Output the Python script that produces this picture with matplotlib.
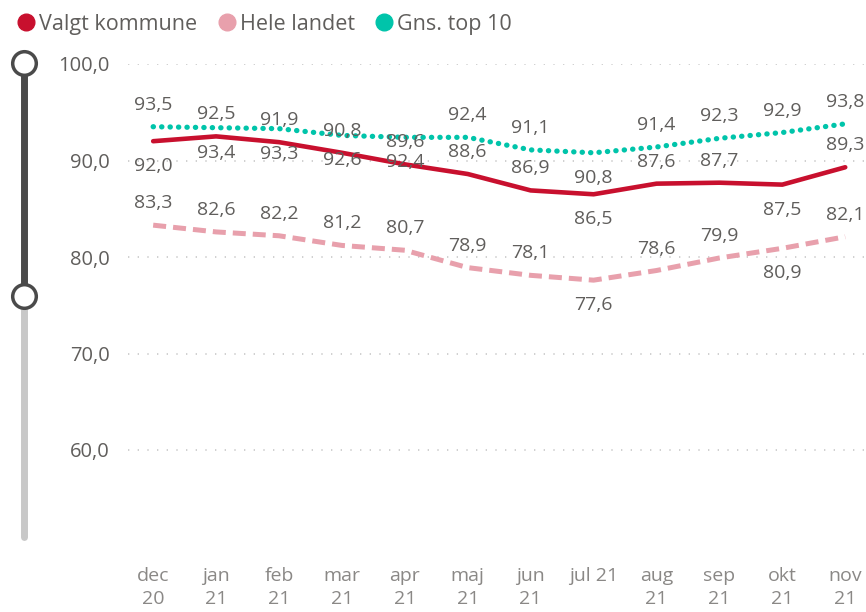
import matplotlib
matplotlib.use("Agg")
import matplotlib.pyplot as plt
from matplotlib.lines import Line2D
import numpy as np

plt.rcParams['font.family'] = ['Open Sans', 'DejaVu Sans']

# --- data ---
months = ["dec\n20", "jan\n21", "feb\n21", "mar\n21", "apr\n21", "maj\n21",
          "jun\n21", "jul 21", "aug\n21", "sep\n21", "okt\n21", "nov\n21"]
valgt_kommune = [92.0, 92.5, 91.9, 90.8, 89.6, 88.6, 86.9, 86.5, 87.6, 87.7, 87.5, 89.3]
hele_landet = [83.3, 82.6, 82.2, 81.2, 80.7, 78.9, 78.1, 77.6, 78.6, 79.9, 80.9, 82.1]
gns_top10 = [93.5, 93.4, 93.3, 92.6, 92.4, 92.4, 91.1, 90.8, 91.4, 92.3, 92.9, 93.8]
y_ticks = [60, 70, 80, 90, 100]

# label placement: 1 = above the point, -1 = below
pos_valgt = [-1, 1, 1, 1, 1, 1, 1, -1, 1, 1, -1, 1]
pos_hele = [1, 1, 1, 1, 1, 1, 1, -1, 1, 1, -1, 1]
pos_top10 = [1, -1, -1, -1, -1, 1, 1, -1, 1, 1, 1, 1]

RED = "#C8102E"
PINK = "#E8A0AC"
TEAL = "#00C4AA"
TXT = "#605E5C"

W, H = 866, 612
fig = plt.figure(figsize=(W / 100, H / 100), dpi=100)

# main axes placed in pixel terms
top_px, bot_px, left_px = 64, 546.5, 128
ax = fig.add_axes([left_px / W, 1 - bot_px / H, 1 - left_px / W, (bot_px - top_px) / H])
x = np.arange(len(months))
ax.set_xlim(-0.40, 11.33)
ax.set_ylim(50, 100)

for s in ax.spines.values():
    s.set_visible(False)

for v in y_ticks:
    ax.axhline(v, color="#C8C8C8", lw=1.2, ls=(0, (0.8, 5)), zorder=0)

ax.plot(x, hele_landet, color=PINK, lw=3.6, ls=(0, (2.6, 1.4)), solid_capstyle="butt",
        zorder=2)
ax.plot(x, valgt_kommune, color=RED, lw=3.3, solid_joinstyle="round",
        solid_capstyle="round", zorder=3)
ax.plot(x, gns_top10, color=TEAL, lw=3.8, ls=(0, (0.05, 1.55)), dash_capstyle="round",
        zorder=4)

def add_labels(vals, pos):
    for xi, v, p in zip(x, vals, pos):
        off = 22 if p > 0 else -25
        ax.annotate(f"{v:.1f}".replace(".", ","), (xi, v), xytext=(0, off),
                    textcoords="offset pixels", ha="center", va="center",
                    fontsize=14, color=TXT, zorder=6)

add_labels(gns_top10, pos_top10)
add_labels(valgt_kommune, pos_valgt)
add_labels(hele_landet, pos_hele)

ax.set_yticks(y_ticks)
ax.set_yticklabels([f"{v:.1f}".replace(".", ",") for v in y_ticks])
ax.set_xticks(x)
ax.set_xticklabels(months, linespacing=1.3)
ax.tick_params(axis="y", length=0, pad=13, labelsize=14.5, labelcolor=TXT)
ax.tick_params(axis="x", length=0, pad=15, labelsize=14, labelcolor="#8A8886")

# legend
handles = [Line2D([], [], marker="o", ls="", ms=12, color=c) for c in (RED, PINK, TEAL)]
fig.legend(handles, ["Valgt kommune", "Hele landet", "Gns. top 10"], loc="upper left",
           bbox_to_anchor=(-0.011, 1.0), ncol=3, frameon=False, fontsize=15.5,
           handletextpad=-0.38, columnspacing=0.35, labelcolor=TXT, borderaxespad=0.25)

# range slider on the left, drawn in pixel coordinates
ov = fig.add_axes([0, 0, 1, 1], facecolor="none")
ov.set_xlim(0, W)
ov.set_ylim(H, 0)
ov.axis("off")
ov.plot([24, 24], [296, 537], color="#C8C8C8", lw=5, solid_capstyle="round")
ov.plot([24, 24], [63, 296], color="#4A4A4A", lw=5)
ov.plot([24, 24], [63, 296], ls="", marker="o", ms=17, mfc="white", mec="#4A4A4A", mew=2.5)

fig.savefig("out.png", dpi=100)
